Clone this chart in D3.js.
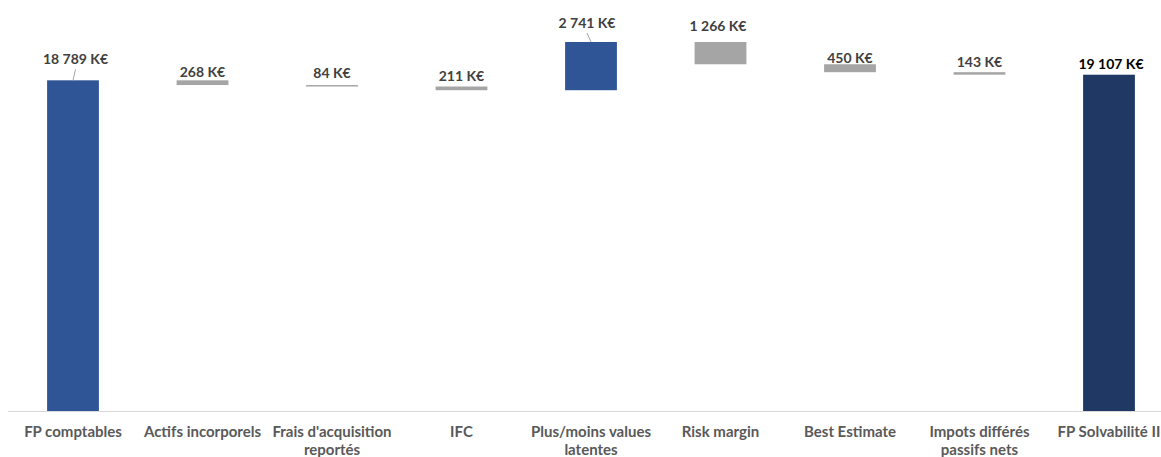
<!DOCTYPE html>
<html><head><meta charset="utf-8">
<script src="https://cdn.jsdelivr.net/npm/d3@7"></script>
<style>body{margin:0;background:#fff}svg{display:block}</style>
</head><body>
<svg id="c" width="1161" height="457"></svg>
<script>
const categories = ["FP comptables","Actifs incorporels","Frais d'acquisition reportés","IFC","Plus/moins values latentes","Risk margin","Best Estimate","Impots différés passifs nets","FP Solvabilité II"];
const values = [18789, -268, -84, -211, 2741, -1266, -450, -143, 19107];
const kinds = ["start","delta","delta","delta","delta","delta","delta","delta","total"];
const labels = ["18 789 K€","268 K€","84 K€","211 K€","2 741 K€","1 266 K€","450 K€","143 K€","19 107 K€"];
// label nudges (px) relative to bar top / band center, as placed in the original
const labelDx = [2.5, 0, 0, 0, -4, -2.5, 0, 0, 2];
const labelDy = [-16, -3.6, -7, -5.6, -14, -10.6, -1, -5.6, -5.7];

const svg = d3.select("#c");
const x = d3.scaleBand().domain(categories).range([8.25, 1173.75]).paddingInner(0.6).paddingOuter(0.3);
const y = d3.scaleLinear().domain([0, 22000]).range([411, 23.8]);

// compute waterfall
let run = 0;
const data = categories.map((c, i) => {
  let y0, y1;
  if (kinds[i] === "start" || kinds[i] === "total") { y0 = 0; y1 = values[i]; run = values[i]; }
  else { y0 = run; y1 = run + values[i]; run = y1; }
  const color = kinds[i] === "total" ? "#203864" : (values[i] >= 0 ? "#2F5597" : "#A5A5A5");
  return {c, i, lo: Math.min(y0, y1), hi: Math.max(y0, y1), color};
});

// baseline
svg.append("line").attr("x1", 8).attr("x2", 1161).attr("y1", y(0) + 0.5).attr("y2", y(0) + 0.5)
  .attr("stroke", "#D9D9D9").attr("stroke-width", 1);

svg.selectAll("rect.bar").data(data).join("rect").attr("class", "bar")
  .attr("x", d => x(d.c)).attr("width", x.bandwidth())
  .attr("y", d => y(d.hi)).attr("height", d => Math.max(1, y(d.lo) - y(d.hi)))
  .attr("fill", d => d.color);

// value labels + leader lines
data.forEach(d => {
  const cx = x(d.c) + x.bandwidth() / 2;
  const top = y(d.hi);
  const lx = cx + labelDx[d.i], ly = top + labelDy[d.i];
  if (labelDy[d.i] < -12) {
    svg.append("line").attr("x1", cx).attr("y1", top)
      .attr("x2", lx).attr("y2", ly + 5).attr("stroke", "#A6A6A6").attr("stroke-width", 1);
  }
  svg.append("text").attr("x", lx).attr("y", ly).attr("text-anchor", "middle")
    .attr("font-family", "Lato, 'Open Sans', sans-serif").attr("font-weight", "bold").attr("font-size", 14)
    .attr("fill", kinds[d.i] === "total" ? "#000000" : "#404040").text(labels[d.i]);
});

// axis labels with wrapping
const axisG = svg.append("g");
categories.forEach(c => {
  const t = axisG.append("text").attr("x", x(c) + x.bandwidth() / 2).attr("y", 437)
    .attr("text-anchor", "middle").attr("font-family", "Lato, 'Open Sans', sans-serif")
    .attr("font-weight", "bold").attr("font-size", 15).attr("fill", "#595959");
  const words = c.split(" ");
  let line = [];
  let ts = t.append("tspan").attr("x", x(c) + x.bandwidth() / 2).attr("dy", 0);
  const maxW = x.step() - 2;
  words.forEach(w => {
    line.push(w);
    ts.text(line.join(" "));
    if (ts.node().getComputedTextLength() > maxW && line.length > 1) {
      line.pop(); ts.text(line.join(" "));
      line = [w];
      ts = t.append("tspan").attr("x", x(c) + x.bandwidth() / 2).attr("dy", 18).text(w);
    }
  });
});
</script>
</body></html>
